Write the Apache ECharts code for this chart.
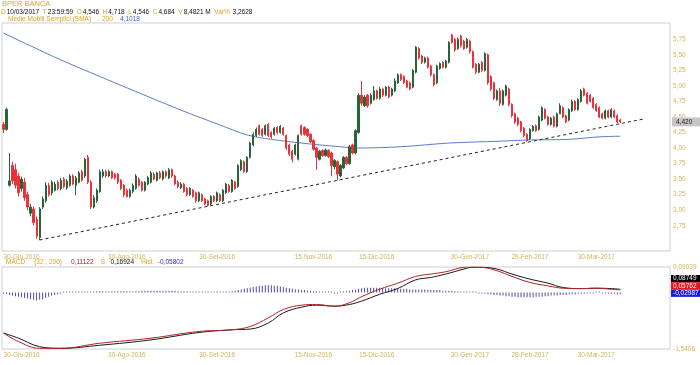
<!DOCTYPE html>
<html><head><meta charset="utf-8">
<script src="https://cdn.jsdelivr.net/npm/echarts@6/dist/echarts.min.js"></script>
<style>html,body{margin:0;padding:0;background:#fff}#c{width:700px;height:365px}</style>
</head><body><div id="c"></div>
<script>
// ---- data ----
const opens = [
4.38,4.30,3.40,3.72,3.65,3.55,3.35,3.45,3.25,2.95,
3.02,2.85,2.56,3.05,3.15,3.40,3.28,3.32,3.45,3.35,
3.50,3.36,3.40,3.55,3.40,3.45,3.62,3.55,3.85,3.45,
3.05,3.15,3.30,3.55,3.62,3.55,3.62,3.58,3.58,3.48,
3.40,3.32,3.22,3.30,3.35,3.50,3.45,3.32,3.42,3.45,
3.58,3.48,3.60,3.50,3.62,3.52,3.65,3.55,3.45,3.36,
3.42,3.35,3.25,3.32,3.28,3.15,3.25,3.18,3.15,3.10,
3.22,3.15,3.25,3.15,3.28,3.40,3.30,3.45,3.38,3.65,
3.78,3.62,3.85,4.05,4.20,4.36,4.30,4.22,4.38,4.25,
4.22,4.33,4.25,4.32,4.20,4.05,3.95,3.90,3.82,4.36,
4.33,4.30,4.22,4.12,4.00,3.82,3.96,3.88,3.96,3.92,
3.70,3.78,3.55,3.68,3.85,3.75,4.05,3.92,4.25,4.85,
4.68,4.85,4.72,4.78,4.92,4.80,4.95,4.85,4.98,4.85,
4.92,5.05,5.18,5.15,5.08,5.05,4.98,5.22,5.60,5.48,
5.38,5.45,5.32,5.18,5.05,5.28,5.38,5.30,5.38,5.82,
5.75,5.60,5.80,5.72,5.62,5.72,5.55,5.35,5.22,5.38,
5.25,5.50,5.15,5.05,4.78,4.92,4.70,4.85,4.95,4.70,
4.55,4.48,4.42,4.32,4.22,4.15,4.28,4.36,4.30,4.45,
4.62,4.50,4.38,4.50,4.35,4.55,4.65,4.52,4.45,4.60,
4.75,4.62,4.75,4.95,4.88,4.85,4.80,4.70,4.65,4.55,
4.48,4.60,4.50,4.60,4.52,4.45];
const closes = [
4.30,4.62,3.47,3.47,3.40,3.28,3.50,3.20,3.05,3.05,
2.80,2.58,3.02,3.18,3.40,3.25,3.45,3.42,3.35,3.48,
3.38,3.47,3.55,3.42,3.52,3.60,3.48,3.82,3.45,3.05,
3.20,3.32,3.62,3.62,3.55,3.62,3.52,3.52,3.45,3.35,
3.25,3.22,3.32,3.40,3.55,3.40,3.32,3.45,3.52,3.60,
3.50,3.60,3.52,3.62,3.55,3.65,3.55,3.42,3.38,3.42,
3.30,3.25,3.35,3.22,3.15,3.28,3.15,3.10,3.08,3.22,
3.15,3.28,3.15,3.32,3.42,3.30,3.48,3.35,3.72,3.80,
3.62,3.85,4.08,4.22,4.30,4.22,4.20,4.36,4.20,4.18,
4.32,4.25,4.35,4.22,4.00,3.90,3.82,4.05,4.20,4.22,
4.22,4.20,4.10,3.98,3.85,3.95,3.88,3.97,3.86,3.72,
3.80,3.58,3.72,3.85,3.75,4.02,3.92,4.28,4.85,4.72,
4.82,4.68,4.85,4.92,4.80,4.95,4.85,4.98,4.82,4.95,
5.08,5.18,5.10,5.05,4.98,4.95,5.25,5.62,5.45,5.38,
5.45,5.30,5.18,5.02,5.32,5.36,5.30,5.40,5.70,5.70,
5.58,5.75,5.65,5.60,5.75,5.55,5.30,5.22,5.35,5.25,
5.52,5.05,4.95,4.80,4.92,4.72,4.92,5.00,4.70,4.52,
4.42,4.38,4.28,4.20,4.12,4.30,4.35,4.28,4.50,4.65,
4.48,4.38,4.48,4.35,4.55,4.68,4.50,4.42,4.62,4.75,
4.62,4.78,4.92,4.85,4.72,4.75,4.65,4.60,4.50,4.48,
4.60,4.50,4.62,4.50,4.42,4.42];
const lows = [
4.24,4.28,3.38,3.42,3.35,3.22,3.30,3.15,3.00,2.90,
2.76,2.54,2.52,3.02,3.12,3.22,3.24,3.30,3.32,3.32,
3.35,3.33,3.38,3.40,3.24,3.43,3.46,3.52,3.42,3.02,
3.03,3.12,3.28,3.52,3.52,3.53,3.50,3.49,3.42,3.32,
3.21,3.20,3.20,3.27,3.33,3.38,3.30,3.30,3.40,3.43,
3.48,3.46,3.50,3.48,3.52,3.50,3.52,3.40,3.35,3.34,
3.28,3.22,3.23,3.20,3.12,3.13,3.13,3.08,3.06,3.08,
3.13,3.13,3.13,3.13,3.26,3.28,3.28,3.33,3.36,3.63,
3.60,3.60,3.83,4.03,4.18,4.20,4.18,4.20,4.18,4.15,
4.20,4.22,4.23,4.20,3.97,3.87,3.77,3.88,3.80,4.20,
4.20,4.18,4.08,3.96,3.65,3.80,3.86,3.86,3.84,3.55,
3.66,3.48,3.53,3.66,3.72,3.73,3.90,3.90,4.23,4.68,
4.66,4.65,4.70,4.76,4.78,4.78,4.82,4.83,4.80,4.83,
4.90,5.03,5.08,5.03,4.96,4.93,4.96,5.20,5.42,5.35,
5.36,5.28,5.15,4.99,5.03,5.26,5.28,5.28,5.36,5.68,
5.55,5.58,5.62,5.58,5.60,5.52,5.28,5.19,5.20,5.22,
5.23,5.02,4.92,4.77,4.76,4.68,4.68,4.83,4.67,4.49,
4.39,4.35,4.25,4.17,4.10,4.13,4.26,4.26,4.28,4.43,
4.46,4.36,4.36,4.33,4.33,4.55,4.48,4.40,4.43,4.58,
4.60,4.60,4.73,4.83,4.70,4.73,4.63,4.58,4.48,4.46,
4.46,4.48,4.48,4.48,4.40,4.40];
const highs = [
4.42,4.65,3.92,3.78,3.75,3.60,3.54,3.52,3.30,3.10,
3.06,2.90,3.05,3.22,3.45,3.44,3.48,3.46,3.48,3.52,
3.53,3.50,3.58,3.58,3.55,3.63,3.65,3.84,3.89,3.48,
3.24,3.35,3.65,3.66,3.65,3.65,3.64,3.60,3.60,3.50,
3.42,3.35,3.35,3.43,3.58,3.53,3.47,3.47,3.55,3.63,
3.61,3.62,3.63,3.64,3.64,3.68,3.67,3.57,3.48,3.45,
3.44,3.37,3.37,3.34,3.30,3.30,3.27,3.20,3.17,3.24,
3.24,3.30,3.27,3.34,3.44,3.42,3.50,3.47,3.74,3.82,
3.80,3.87,4.10,4.25,4.33,4.38,4.32,4.38,4.40,4.27,
4.34,4.35,4.37,4.34,4.22,4.07,3.97,4.07,4.22,4.38,
4.35,4.32,4.24,4.14,4.02,3.97,3.98,3.99,3.98,3.94,
3.82,3.80,3.74,3.87,3.87,4.05,4.07,4.30,4.88,5.08,
4.85,4.87,4.88,5.00,4.94,4.98,4.97,5.00,5.00,4.97,
5.12,5.20,5.20,5.17,5.10,5.07,5.27,5.64,5.62,5.50,
5.47,5.47,5.34,5.20,5.34,5.38,5.40,5.42,5.72,5.84,
5.77,5.78,5.82,5.74,5.77,5.74,5.57,5.37,5.37,5.40,
5.54,5.52,5.17,5.07,4.94,4.97,4.94,5.02,4.97,4.72,
4.57,4.50,4.44,4.34,4.24,4.32,4.37,4.38,4.52,4.67,
4.64,4.52,4.50,4.52,4.57,4.72,4.67,4.54,4.64,4.78,
4.77,4.80,4.95,4.97,4.90,4.87,4.82,4.72,4.67,4.57,
4.62,4.62,4.64,4.62,4.54,4.47];
// SMA 200 read at sparse candle indices
const smaPoints = [[0,5.85],[19,5.42],[39,5.01],[59,4.61],[72,4.37],[81,4.21],[89,4.14],[99,4.08],[112,4.02],[118,4.00],[132,4.02],[148,4.08],[165,4.11],[175,4.13],[188,4.14],[198,4.18],[205,4.19]];
const trendPoints = [[12,2.52],[213,4.47]];
const macdPoints = [[0,-1.224],[5,-1.394],[12,-1.527],[19,-1.527],[32,-1.426],[49,-1.325],[65,-1.192],[76,-1.158],[82,-1.092],[88,-0.922],[93,-0.755],[99,-0.669],[104,-0.655],[110,-0.689],[115,-0.620],[119,-0.500],[125,-0.352],[131,-0.232],[137,-0.097],[142,-0.050],[147,-0.004],[153,0.084],[156,0.090],[159,0.084],[164,0.016],[169,-0.097],[175,-0.218],[181,-0.286],[186,-0.332],[192,-0.339],[197,-0.332],[202,-0.352],[205,-0.367]];
const signalPoints = [[0,-1.224],[5,-1.325],[12,-1.494],[19,-1.527],[32,-1.466],[49,-1.359],[65,-1.212],[76,-1.158],[82,-1.144],[88,-1.023],[93,-0.822],[99,-0.709],[104,-0.669],[110,-0.689],[115,-0.655],[119,-0.588],[125,-0.453],[131,-0.338],[137,-0.165],[142,-0.117],[147,-0.050],[153,0.050],[156,0.084],[159,0.084],[164,0.050],[169,-0.050],[175,-0.151],[181,-0.232],[186,-0.318],[192,-0.339],[197,-0.332],[202,-0.339],[205,-0.352]];
const histValues = [
-0.02,-0.03,-0.04,-0.05,-0.06,-0.07,-0.08,-0.09,-0.10,-0.11,
-0.12,-0.13,-0.12,-0.11,-0.09,-0.07,-0.05,-0.04,-0.03,-0.02,
0.01,0.01,0.01,0.01,0.01,0.01,0.01,0.01,0.01,0.01,
0.01,0.02,0.02,0.02,0.02,0.02,0.02,0.02,0.02,0.02,
0.02,0.02,0.02,0.02,0.02,0.02,0.03,0.03,0.03,0.03,
0.03,0.03,0.03,0.03,0.03,0.03,0.03,0.03,0.02,0.02,
0.02,0.02,0.01,0.01,0.01,0.01,0.01,0.01,0.01,0.01,
0.01,0.01,0.01,0.01,0.01,0.01,0.02,0.03,0.04,0.05,
0.06,0.07,0.08,0.09,0.10,0.11,0.11,0.12,0.12,0.12,
0.11,0.11,0.10,0.09,0.08,0.07,0.06,0.05,0.05,0.04,
0.04,0.03,0.03,0.02,0.02,0.01,0.01,0.01,0.00,0.00,
-0.01,-0.01,0.00,0.01,0.02,0.03,0.04,0.05,0.06,0.07,
0.08,0.08,0.08,0.08,0.08,0.08,0.08,0.07,0.07,0.07,
0.07,0.07,0.06,0.06,0.06,0.05,0.05,0.05,0.05,0.05,
0.05,0.04,0.04,0.04,0.04,0.04,0.03,0.03,0.03,0.03,
0.02,0.02,0.01,0.01,0.01,0.00,0.00,0.00,-0.01,-0.01,
-0.02,-0.03,-0.03,-0.04,-0.04,-0.05,-0.05,-0.06,-0.06,-0.07,
-0.07,-0.08,-0.08,-0.08,-0.08,-0.08,-0.08,-0.07,-0.07,-0.07,
-0.06,-0.06,-0.05,-0.05,-0.05,-0.04,-0.04,-0.04,-0.03,-0.03,
-0.03,-0.02,-0.02,-0.02,-0.01,-0.01,-0.01,0.01,0.01,-0.01,
-0.01,-0.02,-0.02,-0.02,-0.03,-0.03];
const priceTicks = [2.75,3.00,3.25,3.50,3.75,4.00,4.25,4.50,4.75,5.00,5.25,5.50,5.75];
const macdTicks = [0.09039,-1.5406];
const tickIndex = [6,41,71,103,124,155,175,197];
const tickText = ['30-Giu-2016','30-Ago-2016','30-Set-2016','15-Nov-2016','15-Dic-2016','30-Gen-2017','28-Feb-2017','30-Mar-2017'];
const slotCount = 222;
const lastBoxes = [['0,08749','#000000'],['0,05762','#e01818'],['-0,02987','#1c1ce0']];

// ---- chart ----
const F = 'Liberation Sans';
const GOLD = '#d9a21e';
const AX = '#d4b35a';
const cats = Array.from({length: slotCount}, (_, i) => String(i));
const candles = opens.map((o, i) => [o, closes[i], lows[i], highs[i]]);
const comma = v => String(v).replace('.', ',');
const lastClose = closes[closes.length - 1];
const xLabel = {
  show: true, interval: idx => tickIndex.indexOf(idx) >= 0,
  formatter: (v, idx) => tickText[tickIndex.indexOf(+v)] || '',
  color: AX, fontSize: 6.5, fontFamily: F, margin: 3
};
const chart = echarts.init(document.getElementById('c'), null, {renderer: 'canvas'});
chart.setOption({
  animation: false,
  backgroundColor: '#fff',
  title: [
    {text: 'BPER BANCA', left: 2, top: 0, padding: 0, textStyle: {fontFamily: F, fontSize: 7.5, fontWeight: 'normal', color: '#ec9f2c'}},
    {text: '{k|D}{v|10/03/2017}  {k|T}{v|23:59:59}  {k|O}{v|4,546}  {k|H}{v|4,718}  {k|L}{v|4,546}  {k|C}{v|4,684}  {k|V}{v|8,4821 M}  {k|Var%}{v| 3,2628}',
     left: 1, top: 9, padding: 0,
     textStyle: {fontFamily: F, fontSize: 6.5, fontWeight: 'normal', color: '#111',
       rich: {k: {color: GOLD, fontSize: 6.5, fontFamily: F, padding: [0,1,0,0]}, v: {color: '#111', fontSize: 6.5, fontFamily: F}}}},
    {text: '{k|Medie Mobili Semplici (SMA)}      {k|200}    {b|4,1018}',
     left: 8, top: 15.5, padding: 0,
     textStyle: {fontFamily: F, fontSize: 6.5, fontWeight: 'normal',
       rich: {k: {color: GOLD, fontSize: 6.5, fontFamily: F}, b: {color: '#3a5fc0', fontSize: 6.5, fontFamily: F}}}},
    {text: '{k|MACD}     {k|(32 , 200)}     {r|0,11122}    {k|S}   {v|0,16924}    {k|Hist}   {b|-0,05802}',
     left: 6, top: 259, padding: 0,
     textStyle: {fontFamily: F, fontSize: 6.5, fontWeight: 'normal',
       rich: {k: {color: GOLD, fontSize: 6.5, fontFamily: F}, r: {color: '#9c1a1a', fontSize: 6.5, fontFamily: F},
              v: {color: '#111', fontSize: 6.5, fontFamily: F}, b: {color: '#3030b0', fontSize: 6.5, fontFamily: F}}}}
  ],
  grid: [
    {left: 2, right: 30, top: 23, height: 228, show: true, borderColor: '#cfcfcf', borderWidth: 1, backgroundColor: '#fff'},
    {left: 2, right: 30, top: 267, height: 82, show: true, borderColor: '#cfcfcf', borderWidth: 1, backgroundColor: '#fff'}
  ],
  xAxis: [
    {type: 'category', data: cats, gridIndex: 0, boundaryGap: true, axisLine: {show: false}, axisTick: {show: false}, splitLine: {show: false}, axisLabel: xLabel},
    {type: 'category', data: cats, gridIndex: 1, boundaryGap: true, axisLine: {show: false}, axisTick: {show: false}, splitLine: {show: false}, axisLabel: xLabel}
  ],
  yAxis: [
    {type: 'value', gridIndex: 0, position: 'right', min: 2.343, max: 6.012, scale: true,
     axisLine: {show: false}, axisTick: {show: false}, splitLine: {show: false},
     axisLabel: {customValues: priceTicks, formatter: v => v.toFixed(2).replace('.', ','), color: AX, fontSize: 6.5, fontFamily: F, margin: 3}},
    {type: 'value', gridIndex: 1, position: 'right', min: -1.5406, max: 0.09039,
     axisLine: {show: false}, axisTick: {show: false}, splitLine: {show: false},
     axisLabel: {customValues: macdTicks, formatter: v => comma(v), color: AX, fontSize: 6.5, fontFamily: F, margin: 3}},
    {type: 'value', gridIndex: 1, position: 'right', min: -0.93, max: 0.42, show: false,
     axisLine: {show: false}, axisTick: {show: false}, splitLine: {show: false}, axisLabel: {show: false}}
  ],
  series: [
    {type: 'line', name: 'SMA', xAxisIndex: 0, yAxisIndex: 0, data: smaPoints, showSymbol: false, smooth: 0.3,
     lineStyle: {color: '#5b7ccb', width: 1}, z: 2},
    {type: 'line', name: 'trend', xAxisIndex: 0, yAxisIndex: 0, data: trendPoints, showSymbol: false,
     lineStyle: {color: '#222', width: 1, type: [3, 3]}, z: 3},
    {type: 'candlestick', name: 'BPER', xAxisIndex: 0, yAxisIndex: 0, data: candles, barWidth: 1.7, clip: false,
     itemStyle: {color: '#2b6238', color0: '#e8323c', borderColor: '#2b6238', borderColor0: '#e8323c', borderWidth: 1}, z: 4,
     markLine: {silent: true, symbol: 'none', animation: false, precision: 3,
       lineStyle: {color: 'rgba(0,0,0,0)', width: 0},
       label: {show: true, position: 'end', distance: 2, formatter: () => lastClose.toFixed(3).replace('.', ','),
         backgroundColor: '#c6c6c6', color: '#222', fontSize: 6.5, fontFamily: F, padding: [1, 8, 1, 4], opacity: 1},
       emphasis: {disabled: true},
       data: [{yAxis: lastClose}]}},
    {type: 'bar', name: 'Hist', xAxisIndex: 1, yAxisIndex: 2, data: histValues, barWidth: 1, barMinHeight: 1,
     itemStyle: {color: '#4a4ab0'}, z: 2},
    {type: 'line', name: 'S', xAxisIndex: 1, yAxisIndex: 1, data: signalPoints, showSymbol: false, smooth: 0.4,
     lineStyle: {color: '#1a1a1a', width: 1}, z: 3},
    {type: 'line', name: 'MACD', xAxisIndex: 1, yAxisIndex: 1, data: macdPoints, showSymbol: false, smooth: 0.4,
     lineStyle: {color: '#b02424', width: 1}, z: 4}
  ],
  graphic: lastBoxes.map((b, k) => ({
    type: 'text', left: 671, top: 275 + k * 7.3, z: 10,
    style: {text: b[0], fill: '#fff', backgroundColor: b[1], font: '6.5px "Liberation Sans"',
            width: 25, padding: [0.5, 2, 0.5, 2], lineHeight: 6.3}
  }))
});
</script></body></html>
